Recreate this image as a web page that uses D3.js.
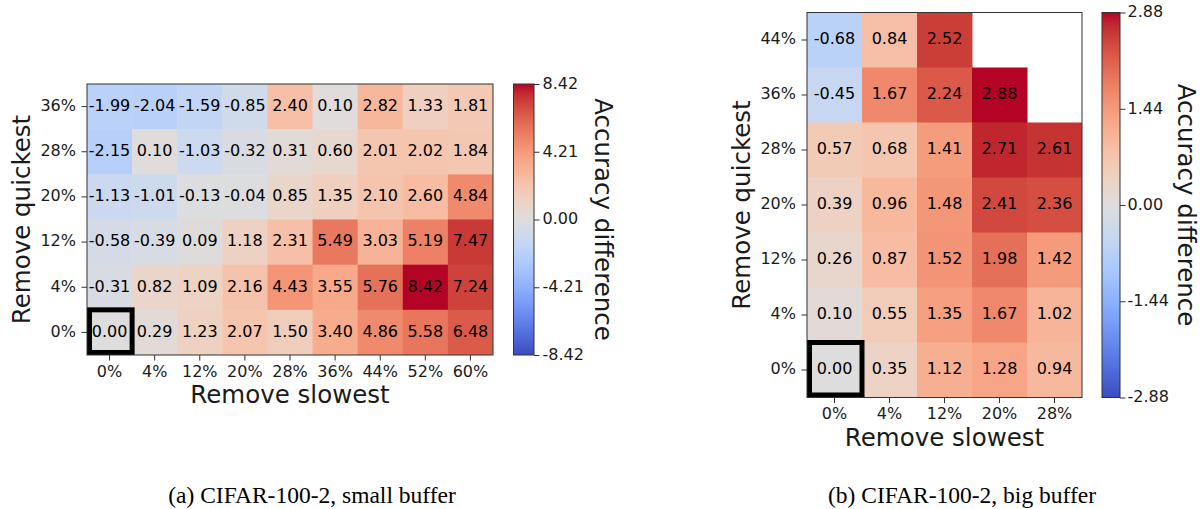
<!DOCTYPE html>
<html>
<head>
<meta charset="utf-8">
<script src="https://cdn.jsdelivr.net/npm/d3@7"></script>
<style>
  html, body { margin: 0; padding: 0; background: #fff; }
  svg { display: block; }
</style>
</head>
<body>
<svg id="chart" width="1200" height="509"></svg>
<script>
// ---------------- DATA ----------------
const leftCols = ["0%", "4%", "12%", "20%", "28%", "36%", "44%", "52%", "60%"];
const leftRows = ["36%", "28%", "20%", "12%", "4%", "0%"];
const leftValues = [
  [-1.99, -2.04, -1.59, -0.85, 2.40, 0.10, 2.82, 1.33, 1.81],
  [-2.15, 0.10, -1.03, -0.32, 0.31, 0.60, 2.01, 2.02, 1.84],
  [-1.13, -1.01, -0.13, -0.04, 0.85, 1.35, 2.10, 2.60, 4.84],
  [-0.58, -0.39, 0.09, 1.18, 2.31, 5.49, 3.03, 5.19, 7.47],
  [-0.31, 0.82, 1.09, 2.16, 4.43, 3.55, 5.76, 8.42, 7.24],
  [0.00, 0.29, 1.23, 2.07, 1.50, 3.40, 4.86, 5.58, 6.48]
];
const leftBarTicks = [-8.42, -4.21, 0.00, 4.21, 8.42];
const leftCaption = "(a) CIFAR-100-2, small buffer";

const rightCols = ["0%", "4%", "12%", "20%", "28%"];
const rightRows = ["44%", "36%", "28%", "20%", "12%", "4%", "0%"];
const rightValues = [
  [-0.68, 0.84, 2.52, null, null],
  [-0.45, 1.67, 2.24, 2.88, null],
  [0.57, 0.68, 1.41, 2.71, 2.61],
  [0.39, 0.96, 1.48, 2.41, 2.36],
  [0.26, 0.87, 1.52, 1.98, 1.42],
  [0.10, 0.55, 1.35, 1.67, 1.02],
  [0.00, 0.35, 1.12, 1.28, 0.94]
];
const rightBarTicks = [-2.88, -1.44, 0.00, 1.44, 2.88];
const rightCaption = "(b) CIFAR-100-2, big buffer";

const xAxisTitle = "Remove slowest";
const yAxisTitle = "Remove quickest";
const barTitle = "Accuracy difference";
const highlightCell = { col: "0%", row: "0%" };

// ---------------- COLORMAP (matplotlib coolwarm) ----------------
const coolwarm = [
  [0.2298057, 0.298717966, 0.753683153], [0.26623388, 0.353094838, 0.801466763],
  [0.30386891, 0.406535296, 0.84495867], [0.342804478, 0.458757618, 0.883725899],
  [0.38301334, 0.50941904, 0.917387822], [0.424369608, 0.558148092, 0.945619588],
  [0.46666708, 0.604562568, 0.968154911], [0.509635204, 0.648280772, 0.98478814],
  [0.552953156, 0.688929332, 0.995375608], [0.596262162, 0.726149107, 0.999836203],
  [0.639176211, 0.759599947, 0.998151185], [0.681291281, 0.788964712, 0.990363227],
  [0.722193294, 0.813952739, 0.976574709], [0.761464949, 0.834302879, 0.956945269],
  [0.798691636, 0.849786142, 0.931688648], [0.833466556, 0.860207984, 0.901068838],
  [0.865395197, 0.86541021, 0.865395561], [0.897787179, 0.848937047, 0.820880546],
  [0.924127593, 0.827384882, 0.774508472], [0.944468518, 0.800927443, 0.726736146],
  [0.958852946, 0.769767752, 0.678007945], [0.96732803, 0.734132809, 0.628751763],
  [0.969954137, 0.694266682, 0.579375448], [0.966811177, 0.650421156, 0.530263762],
  [0.958003065, 0.602842431, 0.481775914], [0.943660866, 0.551750968, 0.434243684],
  [0.923944917, 0.49730856, 0.387970225], [0.89904617, 0.439559467, 0.343229596],
  [0.869186849, 0.378313092, 0.300267182], [0.834620542, 0.312874446, 0.259301199],
  [0.795631745, 0.24128379, 0.220525627], [0.752534934, 0.157246067, 0.184115123],
  [0.705673158, 0.01555616, 0.150232812]
].map(c => d3.rgb(c[0] * 255, c[1] * 255, c[2] * 255).formatHex());
const cmapT = d3.scaleLinear()
  .domain(d3.range(coolwarm.length).map(i => i / (coolwarm.length - 1)))
  .range(coolwarm)
  .interpolate(d3.interpolateRgb)
  .clamp(true);

const svg = d3.select("#chart");
const FONT = "'DejaVu Sans', sans-serif";
const TXT = "#1a1a1a";

function drawPanel(cfg) {
  const g = svg.append("g");
  const limit = d3.max(cfg.barTicks.map(Math.abs));
  const color = v => cmapT((v + limit) / (2 * limit));

  const x = d3.scaleBand().domain(cfg.cols).range([cfg.x0, cfg.x1]).padding(0);
  const y = d3.scaleBand().domain(cfg.rows).range([cfg.y0, cfg.y1]).padding(0);

  const clipId = "clip" + cfg.id;
  svg.append("defs").append("clipPath").attr("id", clipId)
    .append("rect").attr("x", cfg.x0).attr("y", cfg.y0)
    .attr("width", cfg.x1 - cfg.x0).attr("height", cfg.y1 - cfg.y0);

  const cells = [];
  cfg.values.forEach((row, ri) => row.forEach((v, ci) => {
    if (v !== null) cells.push({ r: cfg.rows[ri], c: cfg.cols[ci], v });
  }));

  g.append("g").selectAll("rect").data(cells).join("rect")
    .attr("x", d => x(d.c)).attr("y", d => y(d.r))
    .attr("width", x.bandwidth() + 0.5).attr("height", y.bandwidth() + 0.5)
    .attr("fill", d => color(d.v))
    .attr("clip-path", `url(#${clipId})`);

  g.append("g").selectAll("text").data(cells).join("text")
    .attr("x", d => x(d.c) + x.bandwidth() / 2)
    .attr("y", d => y(d.r) + y.bandwidth() / 2)
    .attr("dy", "0.27em")
    .attr("text-anchor", "middle")
    .attr("font-family", FONT).attr("font-size", 16).attr("fill", "#000")
    .text(d => d.v.toFixed(2));

  // highlight box
  const hx = x(highlightCell.col), hy = y(highlightCell.row);
  const bw = x.bandwidth(), bh = y.bandwidth(), sw = 5;
  g.append("rect")
    .attr("x", hx + sw / 2).attr("y", hy)
    .attr("width", bw - sw / 2).attr("height", bh - sw / 2)
    .attr("fill", "none").attr("stroke", "#000").attr("stroke-width", sw);

  // frame
  g.append("rect")
    .attr("x", cfg.x0).attr("y", cfg.y0)
    .attr("width", cfg.x1 - cfg.x0).attr("height", cfg.y1 - cfg.y0)
    .attr("fill", "none").attr("stroke", "#333").attr("stroke-width", 1);

  // axes
  const tickLen = 5.5;
  const xAxis = g.append("g").attr("transform", `translate(0,${cfg.y1})`)
    .call(d3.axisBottom(x).tickSize(tickLen).tickPadding(4));
  const yAxis = g.append("g").attr("transform", `translate(${cfg.x0},0)`)
    .call(d3.axisLeft(y).tickSize(tickLen).tickPadding(5.5));
  [xAxis, yAxis].forEach(a => {
    a.select(".domain").remove();
    a.selectAll("line").attr("stroke", "#333").attr("stroke-width", 1);
    a.selectAll("text").attr("font-family", FONT).attr("font-size", 16).attr("fill", TXT);
  });
  xAxis.selectAll("text").attr("dy", null).attr("y", 21.5);
  yAxis.selectAll("text").attr("dy", "0.27em");

  // axis titles
  g.append("text")
    .attr("x", (cfg.x0 + cfg.x1) / 2).attr("y", cfg.y1 + 48)
    .attr("text-anchor", "middle")
    .attr("font-family", FONT).attr("font-size", 24.5).attr("fill", TXT)
    .text(xAxisTitle);
  g.append("text")
    .attr("transform", `translate(${cfg.x0 - 57},${(cfg.y0 + cfg.y1) / 2}) rotate(-90)`)
    .attr("text-anchor", "middle")
    .attr("font-family", FONT).attr("font-size", 24.5).attr("fill", TXT)
    .text(yAxisTitle);

  // colorbar
  const gradId = "grad" + cfg.id;
  const grad = svg.append("defs").append("linearGradient").attr("id", gradId)
    .attr("x1", 0).attr("y1", 1).attr("x2", 0).attr("y2", 0);
  d3.range(0, 1.0001, 1 / 64).forEach(t => {
    grad.append("stop").attr("offset", t).attr("stop-color", cmapT(t));
  });
  const cb = g.append("g");
  cb.append("rect")
    .attr("x", cfg.cbx0).attr("y", cfg.y0)
    .attr("width", cfg.cbx1 - cfg.cbx0).attr("height", cfg.y1 - cfg.y0)
    .attr("fill", `url(#${gradId})`)
    .attr("stroke", "#333").attr("stroke-width", 1);
  const cbScale = d3.scaleLinear().domain([-limit, limit]).range([cfg.y1, cfg.y0]);
  const cbAxis = cb.append("g").attr("transform", `translate(${cfg.cbx1},0)`)
    .call(d3.axisRight(cbScale).tickValues(cfg.barTicks).tickFormat(d => d.toFixed(2))
      .tickSize(tickLen).tickPadding(cfg.cbPad));
  cbAxis.select(".domain").remove();
  cbAxis.selectAll("line").attr("stroke", "#333");
  cbAxis.selectAll("text").attr("font-family", FONT).attr("font-size", 16)
    .attr("fill", TXT).attr("dy", "0.27em");
  cb.append("text")
    .attr("transform", `translate(${cfg.cbLabelX},${(cfg.y0 + cfg.y1) / 2}) rotate(90)`)
    .attr("text-anchor", "middle")
    .attr("font-family", FONT).attr("font-size", 24.5).attr("fill", TXT)
    .text(barTitle);

  // caption
  svg.append("text")
    .attr("x", cfg.capX).attr("y", 503)
    .attr("text-anchor", "middle")
    .attr("font-family", "'Liberation Serif', 'Times New Roman', serif")
    .attr("font-size", 23.5).attr("fill", "#000")
    .text(cfg.caption);
}

drawPanel({
  id: "L", cols: leftCols, rows: leftRows, values: leftValues, barTicks: leftBarTicks,
  x0: 87, x1: 493, y0: 84, y1: 355,
  cbx0: 513.5, cbx1: 534, cbPad: 3, cbLabelX: 595,
  caption: leftCaption, capX: 312
});
drawPanel({
  id: "R", cols: rightCols, rows: rightRows, values: rightValues, barTicks: rightBarTicks,
  x0: 807, x1: 1082, y0: 12.5, y1: 397.5,
  cbx0: 1102, cbx1: 1120, cbPad: 2, cbLabelX: 1178,
  caption: rightCaption, capX: 962
});
</script>
</body>
</html>
